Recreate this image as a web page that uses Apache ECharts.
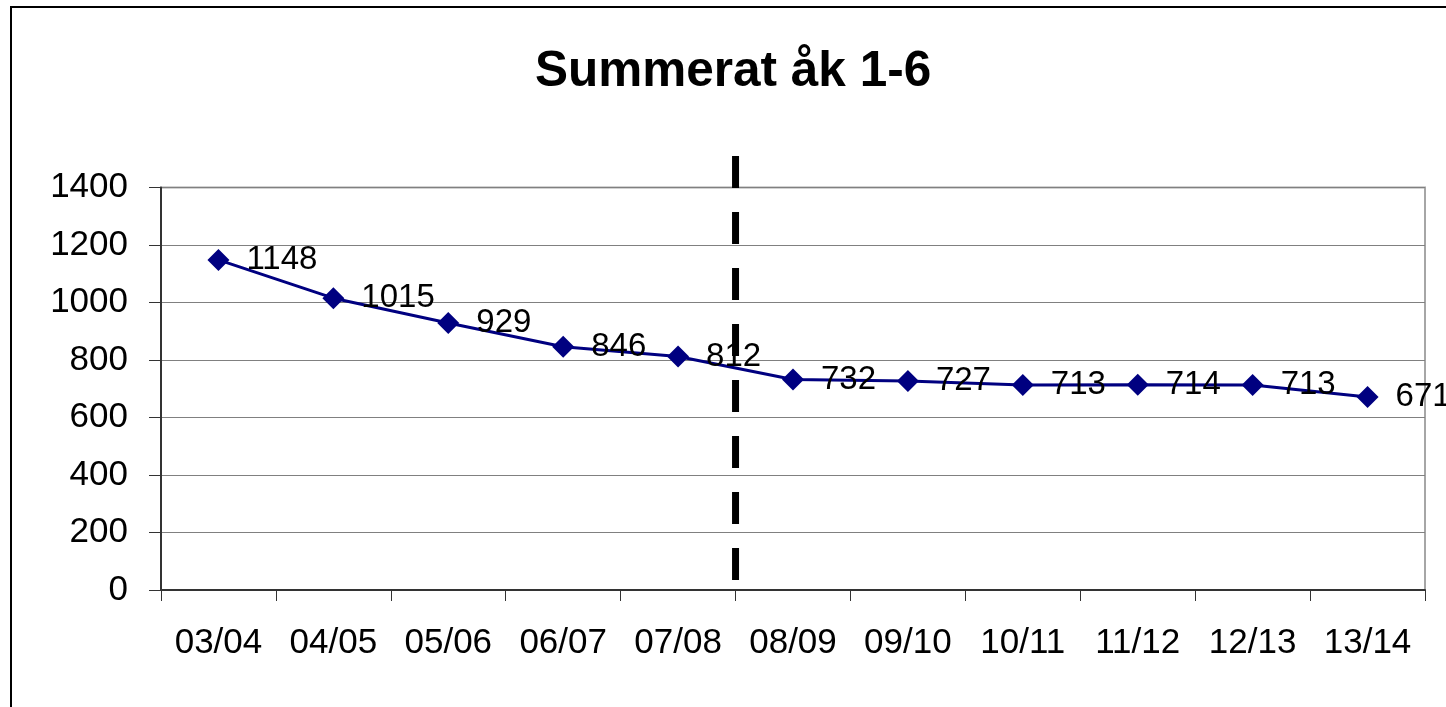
<!DOCTYPE html>
<html>
<head>
<meta charset="utf-8">
<script src="https://cdn.jsdelivr.net/npm/echarts@6/dist/echarts.min.js"></script>
<style>
  html, body { margin: 0; padding: 0; background: #fff; }
  #main { width: 1446px; height: 707px; }
</style>
</head>
<body>
<div id="main"></div>
<script>
// school years and summed pupil counts
const years = ['03/04', '04/05', '05/06', '06/07', '07/08', '08/09', '09/10', '10/11', '11/12', '12/13', '13/14'];
const totals = [1148, 1015, 929, 846, 812, 732, 727, 713, 714, 713, 671];
const yTicks = [0, 200, 400, 600, 800, 1000, 1200, 1400];
// dashed divider between 07/08 and 08/09 (position in category units, value span)
const dividerAt = 5;
const dividerSpan = [1510, 35];

const font = 'Liberation Sans, Arial, sans-serif';

let myChart = echarts.init(document.getElementById('main'));
let option = {
    backgroundColor: '#fff',
    animation: false,
    title: {
        text: 'Summerat åk 1-6',
        left: 530,
        top: 42,
        textStyle: {
            fontFamily: font,
            fontSize: 49.5,
            fontWeight: 'bold',
            color: '#000'
        }
    },
    graphic: [{
        type: 'rect',
        shape: {x: 11, y: 7, width: 1460, height: 720},
        style: {fill: 'none', stroke: '#000', lineWidth: 2},
        silent: true
    }],
    grid: {
        left: 161,
        right: 21,
        top: 187.5,
        bottom: 117,
        show: true,
        borderColor: '#a6a6a6',
        borderWidth: 2
    },
    xAxis: [{
        type: 'category',
        data: years,
        boundaryGap: true,
        axisLine: {lineStyle: {color: '#333', width: 2}},
        axisTick: {show: true, interval: 0, length: 11, lineStyle: {color: '#333', width: 1}},
        axisLabel: {
            interval: 0,
            margin: 36,
            fontFamily: font,
            fontSize: 35,
            color: '#000'
        },
        splitLine: {show: false}
    }, {
        type: 'value',
        min: 0,
        max: years.length,
        show: false
    }],
    yAxis: {
        type: 'value',
        min: yTicks[0],
        max: yTicks[yTicks.length - 1],
        interval: 200,
        axisLine: {show: true, lineStyle: {color: '#333', width: 2}},
        axisTick: {show: true, length: 12, lineStyle: {color: '#333', width: 1}},
        axisLabel: {
            margin: 33,
            fontFamily: font,
            fontSize: 35,
            color: '#000',
            formatter: v => String(v)
        },
        splitLine: {show: true, lineStyle: {color: '#808080', width: 1}}
    },
    series: [{
        name: 'Summerat',
        type: 'line',
        data: totals,
        symbol: 'diamond',
        symbolSize: 22,
        itemStyle: {color: '#000080'},
        lineStyle: {color: '#000080', width: 3},
        label: {
            show: true,
            position: 'right',
            distance: 17,
            offset: [0, 0],
            fontFamily: font,
            fontSize: 33,
            color: '#000'
        },
        z: 3
    }, {
        name: 'divider',
        type: 'line',
        xAxisIndex: 1,
        data: [[dividerAt, dividerSpan[0]], [dividerAt, dividerSpan[1]]],
        symbol: 'none',
        clip: false,
        lineStyle: {color: '#000', width: 7, type: [32, 24]},
        z: 2
    }]
};
myChart.setOption(option);
</script>
</body>
</html>
